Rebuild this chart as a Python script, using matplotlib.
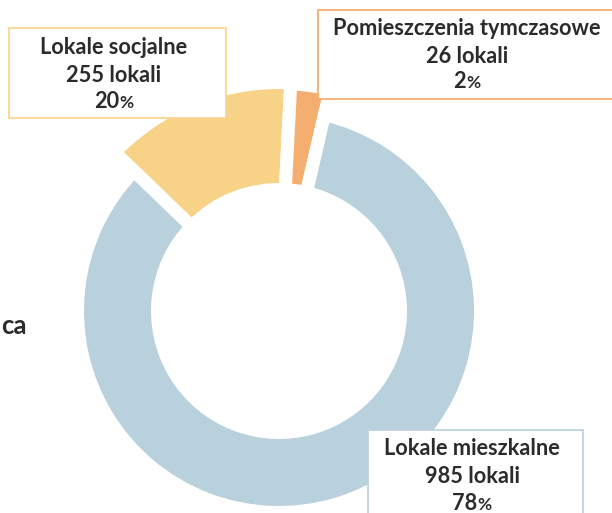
import matplotlib
matplotlib.use("Agg")
import matplotlib.pyplot as plt
from matplotlib.patches import Rectangle

# ---- data ----
categories = ["Lokale socjalne", "Pomieszczenia tymczasowe", "Lokale mieszkalne"]
counts = [255, 26, 985]
percents = [20, 2, 78]
# angular shares of each ring segment as drawn in the reference (percent of the circle)
arc_share = [13.6, 2.8, 83.6]
colors = ["#F8D387", "#F4AE6F", "#B9D1DD"]
box_colors = ["#FAD591", "#F4AE6F", "#BCD3DF"]
side_text = "ca"

W, H = 612, 513
fig = plt.figure(figsize=(W / 100, H / 100), dpi=100)
ax = fig.add_axes([0, 0, 1, 1])

cx, cy = 279, H - 311
gap_px = 13
lw_pt = gap_px * 72 / 100
r_in_vis = 128
r_out_vis = [222, 221, 195]

wedges, _ = ax.pie(arc_share, colors=colors, startangle=136, counterclock=False,
                   center=(cx, cy), radius=201,
                   wedgeprops=dict(edgecolor="white", linewidth=lw_pt, joinstyle="miter"))
for w, ro in zip(wedges, r_out_vis):
    R = ro + gap_px / 2
    w.set_radius(R)
    w.set_width(R - (r_in_vis - gap_px / 2))

ax.set_xlim(0, W)
ax.set_ylim(0, H)
ax.set_aspect("equal")
ax.axis("off")

txt_color = "#2B2B2B"
fs = 15.7
fs_pct = 12.5
font = "Lato"

boxes = [(9, 28, 226, 118), (318, 10, 625, 99), (368, 430, 583, 530)]
centers = [114, 467, 472]
baselines = [(53.5, 81.5, 108.5), (35, 63, 88.5), (455, 483, 510)]

renderer = fig.canvas.get_renderer()
for i in range(3):
    x0, y0, x1, y1 = boxes[i]
    ax.add_patch(Rectangle((x0, H - y1), x1 - x0, y1 - y0, facecolor="white",
                           edgecolor=box_colors[i], linewidth=1.3, zorder=5))
    b1, b2, b3 = baselines[i]
    c = centers[i]
    ax.text(c, H - b1, categories[i], ha="center", va="baseline", fontsize=fs,
            fontweight="bold", family=font, color=txt_color, zorder=6)
    ax.text(c, H - b2, f"{counts[i]} lokali", ha="center", va="baseline", fontsize=fs,
            fontweight="bold", family=font, color=txt_color, zorder=6)
    t1 = ax.text(c, H - b3, f"{percents[i]}", ha="left", va="baseline", fontsize=fs,
                 fontweight="bold", family=font, color=txt_color, zorder=6)
    t2 = ax.text(c, H - b3, "%", ha="left", va="baseline", fontsize=fs_pct,
                 fontweight="bold", family=font, color=txt_color, zorder=6)
    w1 = t1.get_window_extent(renderer).width
    w2 = t2.get_window_extent(renderer).width
    start = c - (w1 + w2) / 2
    t1.set_x(start)
    t2.set_x(start + w1)

ax.text(1, H - 334, side_text, ha="left", va="baseline", fontsize=18.5,
        fontweight="bold", family=font, color=txt_color)

fig.savefig("out.png", dpi=100)
